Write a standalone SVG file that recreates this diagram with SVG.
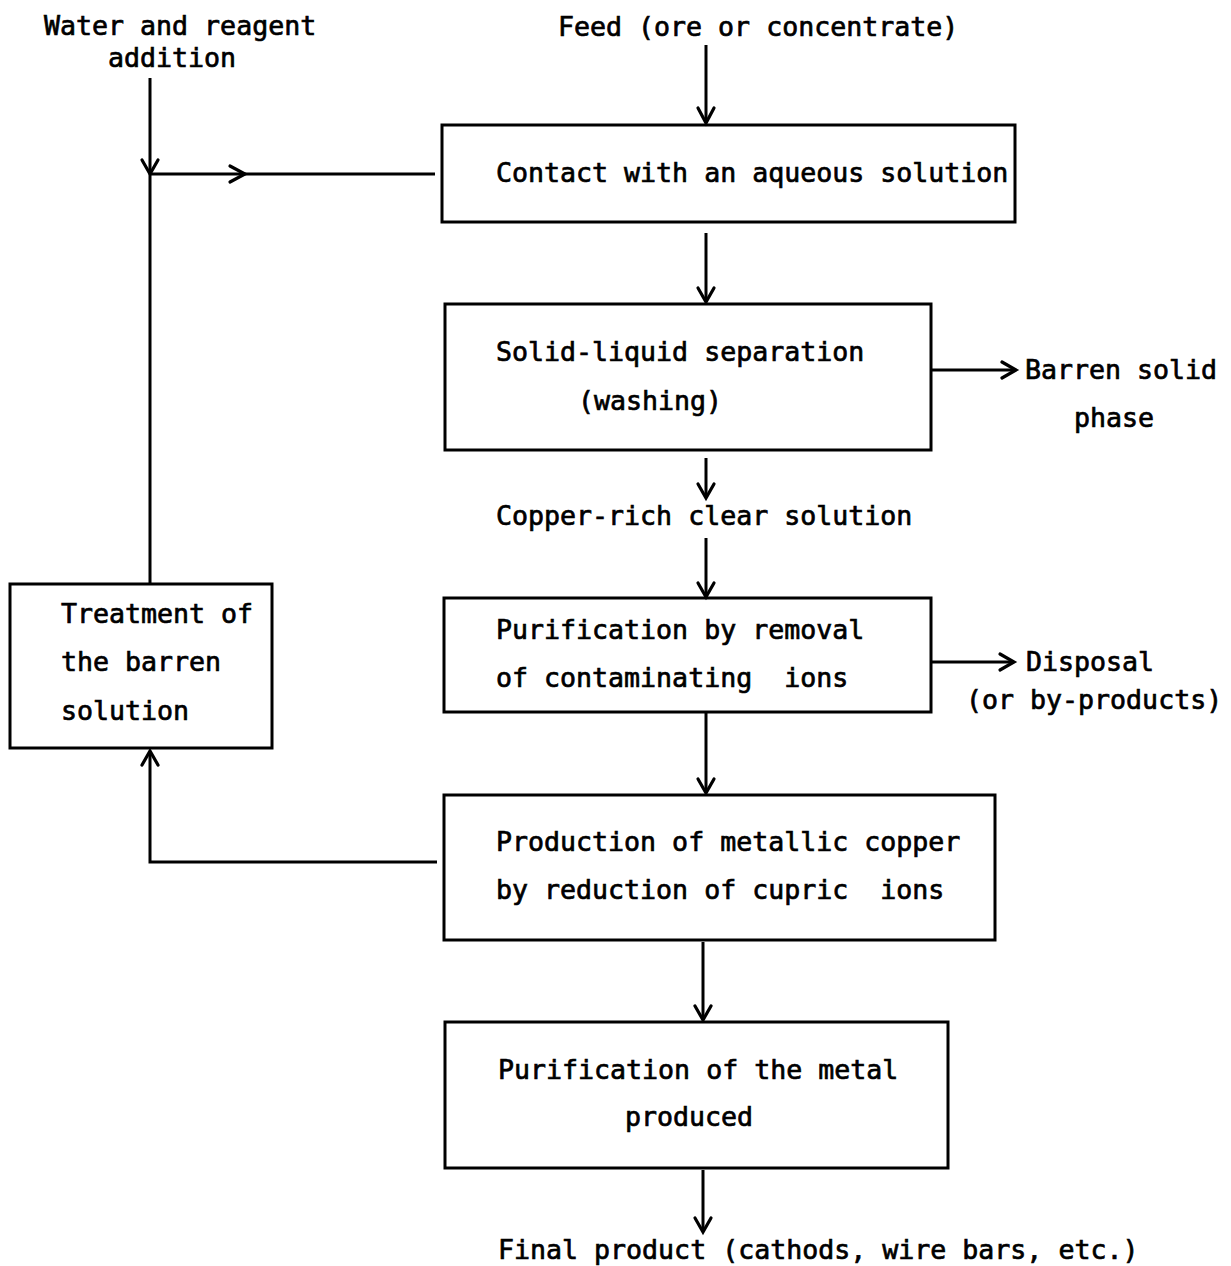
<svg xmlns="http://www.w3.org/2000/svg" width="1231" height="1266" viewBox="0 0 1231 1266">
<style>
.box{fill:none;stroke:#000;stroke-width:3}
.ln{fill:none;stroke:#000;stroke-width:3}
.ah{fill:none;stroke:#000;stroke-width:3.2;stroke-linejoin:miter;stroke-linecap:round}
text{font-family:"DejaVu Sans Mono","Liberation Mono",monospace;font-size:26.6px;fill:#000;stroke:#000;stroke-width:0.7;white-space:pre}
</style>
<rect width="1231" height="1266" fill="#fff"/>
<g id="connectors">
<line class="ln" x1="706" y1="45" x2="706" y2="123"/>
<polyline class="ah" points="698,108 706,123 714,108"/>
<line class="ln" x1="150" y1="78" x2="150" y2="584"/>
<polyline class="ah" points="142,160 150,174 158,160"/>
<line class="ln" x1="150" y1="174" x2="435" y2="174"/>
<polyline class="ah" points="230,166 245,174 230,182"/>
<line class="ln" x1="706" y1="233" x2="706" y2="302"/>
<polyline class="ah" points="698,288 706,302 714,288"/>
<line class="ln" x1="931" y1="370" x2="1016" y2="370"/>
<polyline class="ah" points="1002,362 1016,370 1002,378"/>
<line class="ln" x1="706" y1="458" x2="706" y2="498"/>
<polyline class="ah" points="698,484 706,498 714,484"/>
<line class="ln" x1="706" y1="538" x2="706" y2="597"/>
<polyline class="ah" points="698,583 706,597 714,583"/>
<line class="ln" x1="931" y1="662" x2="1014" y2="662"/>
<polyline class="ah" points="1000,654 1014,662 1000,670"/>
<line class="ln" x1="706" y1="712" x2="706" y2="793"/>
<polyline class="ah" points="698,779 706,793 714,779"/>
<polyline class="ln" points="437,862 150,862 150,751"/>
<polyline class="ah" points="142,765 150,751 158,765"/>
<line class="ln" x1="703" y1="942" x2="703" y2="1020"/>
<polyline class="ah" points="695,1006 703,1020 711,1006"/>
<line class="ln" x1="703" y1="1170" x2="703" y2="1232"/>
<polyline class="ah" points="695,1218 703,1232 711,1218"/>
</g>
<g id="water-label">
<text x="44" y="35">Water and reagent</text>
<text x="108" y="67">addition</text>
</g>
<g id="feed-label">
<text x="558" y="36">Feed (ore or concentrate)</text>
</g>
<g id="contact">
<rect class="box" x="442" y="125" width="573" height="97"/>
<text x="496" y="182">Contact with an aqueous solution</text>
</g>
<g id="separation">
<rect class="box" x="445" y="304" width="486" height="146"/>
<text x="496" y="361">Solid-liquid separation</text>
<text x="578" y="410">(washing)</text>
</g>
<g id="barren-solid">
<text x="1025" y="379">Barren solid</text>
<text x="1074" y="427">phase</text>
</g>
<g id="copper-rich">
<text x="496" y="525">Copper-rich clear solution</text>
</g>
<g id="purification-ions">
<rect class="box" x="444" y="598" width="487" height="114"/>
<text x="496" y="639">Purification by removal</text>
<text x="496" y="687">of contaminating  ions</text>
</g>
<g id="disposal">
<text x="1026" y="671">Disposal</text>
<text x="966" y="709">(or by-products)</text>
</g>
<g id="production">
<rect class="box" x="444" y="795" width="551" height="145"/>
<text x="496" y="851">Production of metallic copper</text>
<text x="496" y="899">by reduction of cupric  ions</text>
</g>
<g id="treatment">
<rect class="box" x="10" y="584" width="262" height="164"/>
<text x="61" y="623">Treatment of</text>
<text x="61" y="671">the barren</text>
<text x="61" y="720">solution</text>
</g>
<g id="purification-metal">
<rect class="box" x="445" y="1022" width="503" height="146"/>
<text x="498" y="1079">Purification of the metal</text>
<text x="625" y="1126">produced</text>
</g>
<g id="final-product">
<text x="498" y="1259">Final product (cathods, wire bars, etc.)</text>
</g>
</svg>
